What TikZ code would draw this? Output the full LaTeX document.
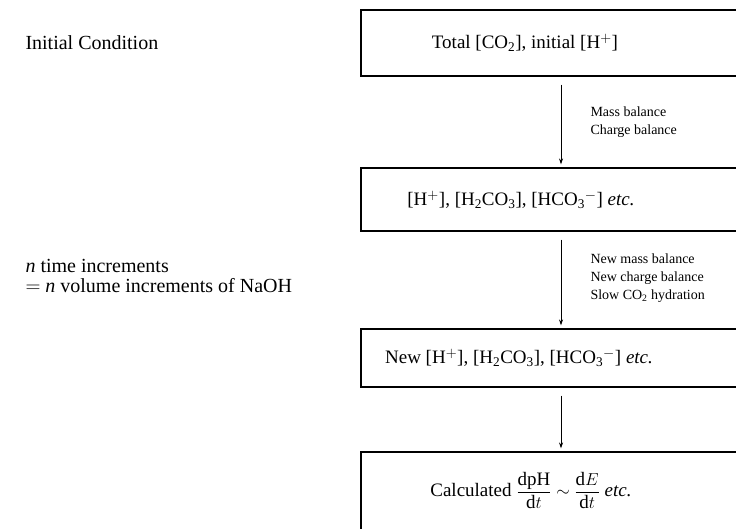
\documentclass[tikz,border=0pt]{standalone}
\usepackage{amsmath}
\usepackage{fontspec}
\setmainfont{Liberation Serif}
\usetikzlibrary{arrows.meta, positioning}

\begin{document}
\begin{tikzpicture}[x=1pt, y=-1pt, line width=1pt,
    box/.style={draw, line width=1.1pt, minimum width=400pt, inner sep=0pt},
    boxtext/.style={inner sep=0pt, font=\fontsize{19}{23}\selectfont},
    lbl/.style={anchor=north west, align=left, inner sep=0pt, font=\fontsize{14}{18.2}\selectfont},
    side/.style={anchor=west, align=left, inner sep=0pt, font=\fontsize{20}{19.5}\selectfont},
    arr/.style={-{Stealth[length=6pt, width=4pt]}, line width=0.8pt, shorten <=8pt, shorten >=3pt}]
        \useasboundingbox (0,0) rectangle (736,529);
        \clip (0,0) rectangle (736,529);

        % Kästen
        \node[box, minimum height=66pt] (bInit) at (561,43) {};
        \node[box, minimum height=63pt] (bConc) at (561,199.5) {};
        \node[box, minimum height=58pt] (bNew) at (561,358) {};
        \node[box, minimum height=120pt] (bCalc) at (561,512) {};

        % Texte in den Kästen
        \node[boxtext] (tInit) at ([xshift=-36pt]bInit.center) {Total [CO\textsubscript{2}], initial [H$^+$]};
        \node[boxtext] (tConc) at ([xshift=-40pt]bConc.center) {[H$^+$], [H\textsubscript{2}CO\textsubscript{3}], [HCO\textsubscript{3}$^-$] \textit{etc.}};
        \node[boxtext] (tNew) at ([xshift=-42pt]bNew.center) {New [H$^+$], [H\textsubscript{2}CO\textsubscript{3}], [HCO\textsubscript{3}$^-$] \textit{etc.}};
        \node[boxtext, anchor=north] (tCalc) at ([xshift=-30pt, yshift=-20pt]bCalc.north)
            {Calculated $\dfrac{\mathrm{dpH}}{\mathrm{d}t} \sim \dfrac{\mathrm{d}E}{\mathrm{d}t}$ \textit{etc.}};

        % Pfeile
        \draw[arr] (bInit) -- (bConc);
        \draw[arr] (bConc) -- (bNew);
        \draw[arr] (bNew) -- (bCalc);

        % Beschriftungen
        \node[lbl] (lBal) at (590,106) {Mass balance\\Charge balance};
        \node[lbl] (lNewBal) at (590,253) {New mass balance\\New charge balance\\Slow CO\textsubscript{2} hydration};

        % linke Spalte
        \node[side] (sInit) at (25,43) {Initial Condition};
        \node[side] (sIncr) at (25,276) {\textit{n} time increments\\$=$ \textit{n} volume increments of NaOH};
    \end{tikzpicture}
\end{document}
